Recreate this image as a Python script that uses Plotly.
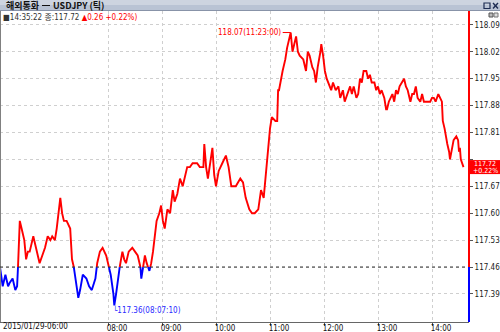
import plotly.graph_objects as go

# ---------------- data ----------------
times = ["06:00","06:02","06:03","06:06","06:09","06:11","06:14","06:17","06:19","06:20",
         "06:22","06:24","06:27","06:29","06:31","06:33","06:37","06:39","06:42","06:44",
         "06:47","06:50","06:53","06:56","06:58","07:01","07:03","07:07","07:09","07:11",
         "07:14","07:18","07:20","07:22","07:24","07:27","07:29","07:32","07:36","07:39",
         "07:42","07:46","07:48","07:51","07:54","07:58","08:01","08:03","08:06","08:07",
         "08:09","08:11","08:13","08:16","08:18","08:20","08:23","08:27","08:30","08:33",
         "08:36","08:37","08:39","08:41","08:43","08:46","08:48","08:50","08:52","08:54",
         "08:57","08:59","09:01","09:03","09:06","09:09","09:12","09:14","09:17","09:20",
         "09:23","09:28","09:31","09:34","09:39","09:42","09:46","09:47","09:49","09:51",
         "09:56","09:58","10:00","10:03","10:07","10:11","10:14","10:17","10:19","10:22",
         "10:27","10:30","10:33","10:37","10:40","10:43","10:47","10:50","10:53","10:56",
         "10:58","11:00","11:02","11:06","11:08","11:09","11:10","11:12","11:14","11:17",
         "11:19","11:23","11:24","11:25","11:27","11:29","11:31","11:33","11:37","11:40",
         "11:42","11:44","11:47","11:49","11:51","11:53","11:56","11:57","11:59","12:01",
         "12:03","12:06","12:08","12:10","12:13","12:16","12:18","12:21","12:23","12:26",
         "12:29","12:31","12:33","12:36","12:38","12:40","12:42","12:44","12:47","12:49",
         "12:51","12:53","12:56","12:58","13:00","13:02","13:04","13:07","13:09","13:10",
         "13:12","13:16","13:18","13:20","13:22","13:24","13:27","13:29","13:31","13:33",
         "13:36","13:38","13:40","13:42","13:44","13:47","13:49","13:51","13:53","13:56",
         "13:58","14:00","14:02","14:04","14:07","14:09","14:11","14:12","14:14","14:17",
         "14:19","14:20","14:22","14:24","14:27","14:29","14:30","14:31","14:32","14:35"]
prices = [117.46,117.43,117.41,117.44,117.41,117.42,117.43,117.40,117.41,117.46,
          117.58,117.56,117.53,117.48,117.50,117.50,117.54,117.52,117.49,117.47,
          117.49,117.51,117.54,117.53,117.54,117.53,117.56,117.64,117.60,117.58,
          117.58,117.56,117.48,117.46,117.43,117.38,117.40,117.44,117.43,117.41,
          117.40,117.43,117.47,117.50,117.51,117.49,117.46,117.44,117.39,117.36,
          117.39,117.43,117.46,117.50,117.48,117.47,117.50,117.51,117.50,117.49,
          117.46,117.43,117.46,117.49,117.47,117.45,117.47,117.50,117.54,117.58,
          117.60,117.62,117.58,117.56,117.61,117.60,117.66,117.63,117.65,117.69,
          117.67,117.72,117.72,117.73,117.73,117.72,117.72,117.78,117.72,117.69,
          117.77,117.70,117.67,117.71,117.73,117.75,117.72,117.67,117.67,117.67,
          117.69,117.68,117.64,117.61,117.60,117.60,117.61,117.66,117.64,117.72,
          117.78,117.82,117.85,117.84,117.84,117.92,117.92,117.95,117.97,118.00,
          118.03,118.07,118.05,118.02,118.04,118.06,118.02,118.01,118.00,117.97,
          118.02,118.01,117.98,117.97,117.94,117.98,118.02,118.04,118.01,117.97,
          117.95,117.93,117.92,117.94,117.92,117.93,117.90,117.92,117.89,117.91,
          117.93,117.91,117.93,117.90,117.91,117.95,117.94,117.97,117.97,117.95,
          117.96,117.94,117.94,117.92,117.93,117.91,117.92,117.90,117.87,117.87,
          117.89,117.91,117.89,117.92,117.91,117.93,117.94,117.95,117.93,117.92,
          117.89,117.91,117.91,117.93,117.90,117.89,117.91,117.89,117.89,117.89,
          117.89,117.90,117.90,117.89,117.91,117.90,117.89,117.84,117.82,117.78,
          117.76,117.74,117.77,117.79,117.80,117.79,117.76,117.77,117.74,117.72]

base_price = 117.46           # previous close (dotted reference line)
last_time = "14:35:22"
high_time = "11:23:00"
low_time = "08:07:10"
title_left = "해외통화"
title_right = "USDJPY (틱)"
y_ticks = [117.39, 117.46, 117.53, 117.60, 117.67, 117.74, 117.81, 117.88, 117.95, 118.02, 118.09]
x_ticks = ["08:00", "09:00", "10:00", "11:00", "12:00", "13:00", "14:00"]
session_start = "06:00"
session_date = "2015/01/29"

# ---------------- helpers ----------------
def to_min(s):
    h, m = s.split(":")[:2]
    return (int(h) - 6) * 60 + int(m)

t = [to_min(s) for s in times]
v = prices

# split into above (red) / below (blue) of the base price
xs, ys = [], []
for i in range(len(t)):
    if i > 0:
        y0, y1 = v[i - 1], v[i]
        if (y0 - base_price) * (y1 - base_price) < 0:
            f = (base_price - y0) / (y1 - y0)
            xs.append(t[i - 1] + f * (t[i] - t[i - 1]))
            ys.append(base_price)
    xs.append(t[i]); ys.append(v[i])
red_y = [y if y >= base_price - 1e-9 else None for y in ys]
blue_y = [y if y <= base_price + 1e-9 else None for y in ys]

RED = "#ff0000"
BLUE = "#0000ff"
FONT = "Liberation Sans Narrow, DejaVu Sans Condensed, Noto Sans CJK KR, sans-serif"

W, Hh = 500, 332
L, R, T, B = 0, 469, 11, 322
Y_LO, Y_HI = 117.317, 118.126
def px(x):  # pixel -> paper x
    return (x - L) / (R - L)
def py(y):  # pixel -> paper y
    return (B - y) / (B - T)

fig = go.Figure()
fig.add_trace(go.Scatter(x=xs, y=red_y, mode="lines", line=dict(color=RED, width=1.9),
                         connectgaps=False, hoverinfo="skip", showlegend=False))
fig.add_trace(go.Scatter(x=xs, y=blue_y, mode="lines", line=dict(color=BLUE, width=1.9),
                         connectgaps=False, hoverinfo="skip", showlegend=False))

last_v = v[-1]
change = last_v - base_price
pct = change / base_price * 100
vmax = max(v); vmin = min(v)
tmax = t[v.index(vmax)]; tmin = t[v.index(vmin)]

shapes = [
    # title bar
    dict(type="rect", xref="paper", yref="paper", x0=px(0), x1=px(W), y0=py(0), y1=py(5),
         fillcolor="#cdd4e0", line=dict(width=0), layer="above"),
    dict(type="rect", xref="paper", yref="paper", x0=px(0), x1=px(W), y0=py(5), y1=py(10),
         fillcolor="#b9c3d4", line=dict(width=0), layer="above"),
    dict(type="line", xref="paper", yref="paper", x0=px(0), x1=px(W), y0=py(10.5), y1=py(10.5),
         line=dict(color="#8893a8", width=1), layer="above"),
    # dash inside the title
    dict(type="line", xref="paper", yref="paper", x0=px(42), x1=px(50), y0=py(5.5), y1=py(5.5),
         line=dict(color="#111", width=1), layer="above"),
    # window icons
    dict(type="rect", xref="paper", yref="paper", x0=px(484), x1=px(490), y0=py(3), y1=py(8.5),
         line=dict(color="#1d2c52", width=1.2), fillcolor="rgba(0,0,0,0)", layer="above"),
    dict(type="line", xref="paper", yref="paper", x0=px(493), x1=px(498), y0=py(3), y1=py(8.5),
         line=dict(color="#1d2c52", width=1.4), layer="above"),
    dict(type="line", xref="paper", yref="paper", x0=px(493), x1=px(498), y0=py(8.5), y1=py(3),
         line=dict(color="#1d2c52", width=1.4), layer="above"),
    dict(type="rect", xref="paper", yref="paper", x0=px(489), x1=px(493), y0=py(13), y1=py(17),
         line=dict(color="#555", width=1), fillcolor="#bbbbbb", layer="above"),
    dict(type="rect", xref="paper", yref="paper", x0=px(494), x1=px(498), y0=py(13), y1=py(17),
         line=dict(color="#777", width=1), fillcolor="#dddddd", layer="above"),
    # left frame
    dict(type="line", xref="paper", yref="paper", x0=0, x1=0, y0=0, y1=1,
         line=dict(color="#808080", width=2)),
    # base price dotted line
    dict(type="line", xref="paper", yref="y", x0=0, x1=1, y0=base_price, y1=base_price,
         line=dict(color="#303030", width=1, dash="dot")),
    # right axis line, red above base, blue below
    dict(type="line", xref="paper", yref="y", x0=1, x1=1, y0=base_price, y1=Y_HI,
         line=dict(color=RED, width=2)),
    dict(type="line", xref="paper", yref="y", x0=1, x1=1, y0=Y_LO, y1=base_price,
         line=dict(color=BLUE, width=2)),
    # last price box
    dict(type="rect", xref="paper", yref="y", ysizemode="pixel", yanchor=last_v,
         x0=1.0, x1=px(W), y0=-7, y1=7, fillcolor=RED, line=dict(width=0)),
]

annotations = [
    dict(xref="paper", yref="paper", x=px(4), y=py(5.5), xanchor="left", yanchor="middle",
         text=f"<b>{title_left}</b>", showarrow=False,
         font=dict(family="Noto Sans CJK KR, sans-serif", size=9, color="#111")),
    dict(xref="paper", yref="paper", x=px(51), y=py(5.5), xanchor="left", yanchor="middle",
         text=f"<b>{title_right}</b>", showarrow=False,
         font=dict(family="Noto Sans CJK KR, sans-serif", size=9, color="#111")),
    dict(xref="paper", yref="paper", x=px(1), y=py(17), xanchor="left", yanchor="middle",
         text=(f"<span style='color:#333'>■{last_time} 종:{last_v:.2f}</span> "
               f"<span style='color:{RED}'>▲{change:.2f} +{pct:.2f}%)</span>"),
         showarrow=False, font=dict(family=FONT, size=8)),
    dict(xref="paper", yref="paper", x=px(1), y=py(326.5), xanchor="left", yanchor="middle",
         text=f"{session_date}-{session_start}", showarrow=False,
         font=dict(family=FONT, size=8, color="#111")),
    dict(xref="x", yref="y", x=tmax, y=vmax, ax=-8, ay=0, showarrow=True, arrowhead=0,
         arrowwidth=1, arrowcolor=RED, standoff=0, xanchor="right", yanchor="middle",
         text=f"{vmax:.2f}({high_time})", font=dict(family=FONT, size=8, color=RED)),
    dict(xref="x", yref="y", x=tmin, y=vmin, xanchor="left", yanchor="top", xshift=-3, yshift=2,
         showarrow=False, text=f"└{vmin:.2f}({low_time})",
         font=dict(family=FONT, size=8, color="#2a2aff")),
    dict(xref="paper", yref="y", x=px(485), y=last_v, yshift=3.5, xanchor="center",
         yanchor="middle", showarrow=False, text=f"{last_v:.2f}",
         font=dict(family=FONT, size=7, color="white")),
    dict(xref="paper", yref="y", x=px(485), y=last_v, yshift=-3.5, xanchor="center",
         yanchor="middle", showarrow=False, text=f"+{pct:.2f}%",
         font=dict(family=FONT, size=7, color="white")),
]

# the tick label hidden behind the last-price box is left blank
y_text = ["" if abs(y - last_v) < 0.035 else f"{y:.2f}" for y in y_ticks]

x_end = (R - L) / 54 * 60  # minutes visible across the plot width
fig.update_layout(
    width=W, height=Hh, margin=dict(l=L, r=W - R, t=T, b=Hh - B),
    paper_bgcolor="white", plot_bgcolor="white",
    shapes=shapes, annotations=annotations, showlegend=False,
    xaxis=dict(range=[0, x_end], tickmode="array", tickvals=[to_min(s) for s in x_ticks],
               ticktext=x_ticks, showgrid=True, gridcolor="#cfcfcf", griddash="dot", gridwidth=1,
               ticks="outside", ticklen=3, tickcolor="#555", showline=True, linecolor="#666",
               linewidth=1, zeroline=False, ticklabelshift=9, ticklabelstandoff=-5,
               automargin=False,
               tickfont=dict(family=FONT, size=8, color="#111"), fixedrange=True),
    yaxis=dict(range=[Y_LO, Y_HI], side="right", tickmode="array", tickvals=y_ticks,
               ticktext=y_text, showgrid=True, gridcolor="#cfcfcf",
               griddash="dot", gridwidth=1, ticks="outside", ticklen=3, tickcolor="#555",
               showline=False, zeroline=False, automargin=False,
               tickfont=dict(family=FONT, size=8, color="#222"), fixedrange=True),
)

fig.write_html("out.html", config={"displayModeBar": False})
